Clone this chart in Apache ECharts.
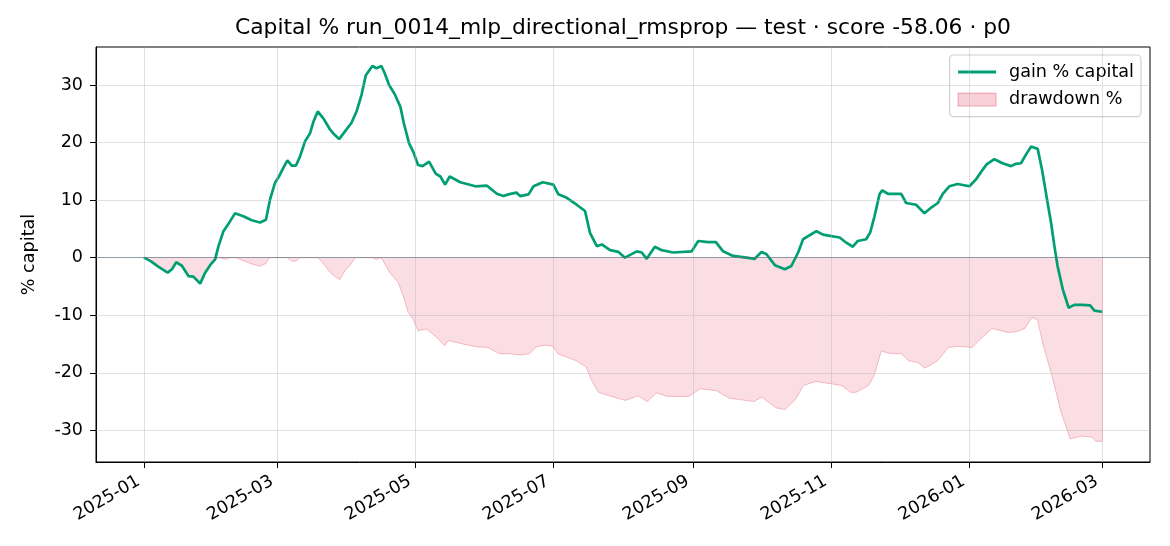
<!DOCTYPE html>
<html><head><meta charset="utf-8">
<script src="https://cdn.jsdelivr.net/npm/echarts@6/dist/echarts.min.js"></script>
<style>html,body{margin:0;padding:0;background:#fff}#c{width:1170px;height:546px}</style>
</head><body><div id="c"></div>
<script>
// days since 2025-01-01
const gainDays = [0,3,6.5,10.5,12.4,14.3,16.8,19.7,21.9,24.9,27.1,29.3,31.5,33,35.2,38.1,40.3,44,47.7,51.4,54,55.8,58,59.9,61.7,63.5,65.4,67.3,69.1,71.3,73.5,75,76.9,79.4,82.3,84.5,86.4,88.9,91.8,94.1,96.3,98.2,101.1,102.9,105.1,106.6,108.5,111,113.5,115,117.3,119.3,121.3,123.3,126.2,129.1,131.2,133.3,135.3,140,146.7,151.8,156.2,159.1,161.3,164.8,166.5,170.2,172.4,176.5,181.2,183.4,187.1,191.5,195.2,197.4,200.4,202.6,206.3,210,212.9,218.1,220.3,222.5,226.1,229.1,234.2,242.4,245.3,249.7,253.1,256.3,260.7,266.6,270.3,273.3,275.5,279.2,283.6,286.5,289.5,291.7,294.6,297.6,300.5,304.9,307.9,310.8,313.7,315.9,319.6,321.4,323.3,325.5,326.7,329.2,335.1,337.3,341.7,345.4,348.4,351.3,353.5,356.4,360.1,365.3,368.2,371.2,372.9,376.3,380,383.7,385.9,388.1,390.3,392.6,395.5,397.4,398.4,399.9,401.4,402.9,404.3,406.6,409.2,411.7,415.4,418.7,420.6,424];
const gainPct = [0.0,-0.6,-1.6,-2.6,-2.0,-0.8,-1.4,-3.2,-3.3,-4.5,-2.6,-1.3,-0.3,2.0,4.6,6.3,7.7,7.2,6.5,6.1,6.6,10.1,13.0,14.2,15.6,16.9,16.0,16.0,17.6,20.2,21.6,23.6,25.4,24.2,22.3,21.3,20.6,21.9,23.4,25.4,28.3,31.7,33.3,32.9,33.3,32.0,30.0,28.4,26.2,23.4,19.9,18.3,16.1,15.9,16.7,14.6,14.1,12.7,14.1,13.1,12.4,12.5,11.1,10.7,11.0,11.3,10.7,11.0,12.4,13.1,12.7,11.0,10.4,9.2,8.1,4.3,2.0,2.3,1.3,1.0,0.0,1.1,0.9,-0.2,1.9,1.3,0.9,1.1,2.9,2.7,2.7,1.1,0.3,0.0,-0.2,1.0,0.6,-1.3,-2.0,-1.45,0.9,3.2,3.9,4.6,4.0,3.7,3.5,2.6,1.9,2.9,3.2,4.4,7.2,11.0,11.7,11.1,11.1,9.5,9.2,7.7,8.7,9.5,11.1,12.4,12.8,12.4,13.6,15.3,16.2,17.1,16.4,15.9,16.3,16.4,17.9,19.3,18.9,15.3,13.0,9.5,6.1,2.0,-1.45,-5.5,-8.7,-8.2,-8.2,-8.3,-9.2,-9.4];
const ddDays = [0,3,6.5,10.5,12.4,14.3,16.8,19.7,21.9,24.9,27.1,29.3,31.5,33,36.5,38,40.5,44,47.7,51.4,54,55.5,63.5,65.4,67.3,69,77,79.4,82.3,84.5,86.7,88.9,91.5,93.5,101,102.9,105,108.8,112.5,114.7,116.9,119.1,121.3,125,129.4,133.1,134.6,141.2,147.1,152.2,157.4,161.8,166.2,170.6,173.6,177.3,181,183.2,191.3,195.7,197.8,201.1,205.9,213.1,218.7,222.7,226.8,231.6,241.2,246,253.3,258.9,270.1,273.3,279.8,283.8,288.6,291.8,297.4,303.8,308.7,312.7,315.1,320.7,323.1,326.3,329.5,335.2,338.4,342.4,345.6,351.2,356,360.8,366.5,369.7,375.3,382.5,385.7,389.8,392.9,395.4,397.8,401.8,405.8,409.9,414.7,419.5,421.2,424];
const ddPct = [0,-0.6,-1.6,-2.6,-2.0,-0.8,-1.4,-3.2,-3.3,-4.5,-2.6,-1.3,-0.3,0,-0.3,0,0,-0.5,-1.1,-1.5,-1.0,0,0,-0.6,-0.6,0,0,-1.0,-2.5,-3.3,-3.8,-2.3,-1.2,0,0,-0.3,0,-2.6,-4.3,-6.6,-9.5,-10.7,-12.7,-12.4,-13.8,-15.3,-14.4,-15.0,-15.5,-15.6,-16.7,-16.7,-16.9,-16.7,-15.5,-15.2,-15.4,-16.7,-17.9,-19.0,-21.1,-23.4,-24.0,-24.8,-24.0,-25.0,-23.5,-24.1,-24.1,-22.8,-23.1,-24.4,-25.0,-24.2,-26.1,-26.4,-24.5,-22.2,-21.5,-21.9,-22.2,-23.4,-23.4,-22.2,-20.5,-16.2,-16.6,-16.7,-17.9,-18.2,-19.2,-17.9,-15.6,-15.4,-15.6,-14.3,-12.3,-13.0,-12.9,-12.3,-10.4,-10.8,-15.0,-20.5,-26.8,-31.5,-31.0,-31.2,-31.9,-31.9];
const xTickLabels = ['2025-01','2025-03','2025-05','2025-07','2025-09','2025-11','2026-01','2026-03'];
const yTicks = [-30,-20,-10,0,10,20,30];

const T0 = Date.UTC(2025,0,1), DAY = 86400000;
const ts = d => T0 + d*DAY;
const xTicks = xTickLabels.map(s => Date.UTC(+s.slice(0,4), +s.slice(5,7)-1, 1));
const FONT = 'DejaVu Sans';
const chart = echarts.init(document.getElementById('c'), null, {renderer:'canvas'});
const gridLines = xTicks.map(t => ({xAxis:t})).concat(yTicks.map(v => ({yAxis:v})));
const fmt = v => { const d=new Date(v); return d.getUTCFullYear()+'-'+String(d.getUTCMonth()+1).padStart(2,'0'); };
const lastDD = [ts(ddDays[ddDays.length-1]), ddPct[ddPct.length-1]];
chart.setOption({
  animation:false,
  backgroundColor:'#fff',
  textStyle:{fontFamily:FONT},
  graphic:[{type:'text', x:623, y:28, style:{text:'Capital % run_0014_mlp_directional_rmsprop — test · score -58.06 · p0', font:'21.8px "DejaVu Sans"', fill:'#000', textAlign:'center', textVerticalAlign:'middle'}}],
  grid:{left:96,right:20,top:47,bottom:84,show:true,borderColor:'#000',borderWidth:1,backgroundColor:'transparent'},
  legend:{orient:'vertical', right:29, top:55, padding:[7,7,7,8], itemGap:7.6, itemWidth:38, itemHeight:13,
    borderColor:'#d0d0d0', borderWidth:1.2, borderRadius:4, backgroundColor:'rgba(255,255,255,0.85)',
    textStyle:{fontSize:17.6, lineHeight:20, color:'#000', fontFamily:FONT, padding:[0,0,0,8]},
    data:[{name:'gain % capital', icon:'path://M0,0L40,0L40,3.2L0,3.2Z', itemStyle:{color:'#009E73'}},
          {name:'drawdown %', icon:'rect', itemStyle:{color:'rgba(220,20,60,0.2)', borderColor:'rgba(220,20,60,0.32)', borderWidth:1}}]},
  xAxis:{type:'value', min:ts(-21.2), max:ts(445.2),
    axisLine:{show:true, onZero:false, lineStyle:{color:'#000', width:1}},
    axisTick:{show:true, customValues:xTicks, length:6, lineStyle:{color:'#000'}},
    axisLabel:{customValues:xTicks, rotate:30, margin:15, padding:[0,6,0,0], fontSize:17.5, color:'#000', fontFamily:FONT, formatter:fmt},
    splitLine:{show:false}},
  yAxis:{type:'value', min:-35.5, max:36.6, name:'% capital', nameLocation:'middle', nameGap:58,
    nameTextStyle:{fontSize:17.6, color:'#000', fontFamily:FONT},
    axisLine:{show:true, onZero:false, lineStyle:{color:'#000', width:1}},
    axisTick:{show:true, customValues:yTicks, length:6, lineStyle:{color:'#000'}},
    axisLabel:{customValues:yTicks, margin:13, fontSize:17.5, color:'#000', fontFamily:FONT},
    splitLine:{show:false}},
  series:[
    {name:'drawdown %', type:'line', z:1, symbol:'none', showSymbol:false,
      data: ddDays.map((d,i)=>[ts(d), ddPct[i]]),
      itemStyle:{color:'rgba(220,20,60,0.2)'},
      lineStyle:{color:'rgba(220,20,60,0.25)', width:1},
      areaStyle:{color:'rgba(220,20,60,0.2)', origin:0},
      markLine:{silent:true, symbol:'none', label:{show:false}, lineStyle:{color:'rgba(220,20,60,0.25)', type:'solid', width:1},
        data:[[{coord:[lastDD[0],0]},{coord:lastDD}]]}},
    {name:'grid', type:'line', z:2, data:[], silent:true,
      markLine:{silent:true, symbol:'none', label:{show:false}, lineStyle:{color:'rgba(180,180,180,0.4)', type:'solid', width:1}, data:gridLines}},
    {name:'zero', type:'line', z:3, data:[], silent:true,
      markLine:{silent:true, symbol:'none', label:{show:false}, lineStyle:{color:'rgba(52,73,94,0.45)', type:'solid', width:1.2}, data:[{yAxis:0}]}},
    {name:'gain % capital', type:'line', z:4, symbol:'none', showSymbol:false,
      data: gainDays.map((d,i)=>[ts(d), gainPct[i]]),
      itemStyle:{color:'#009E73'},
      lineStyle:{color:'#009E73', width:2.7}}
  ]
});
</script></body></html>
